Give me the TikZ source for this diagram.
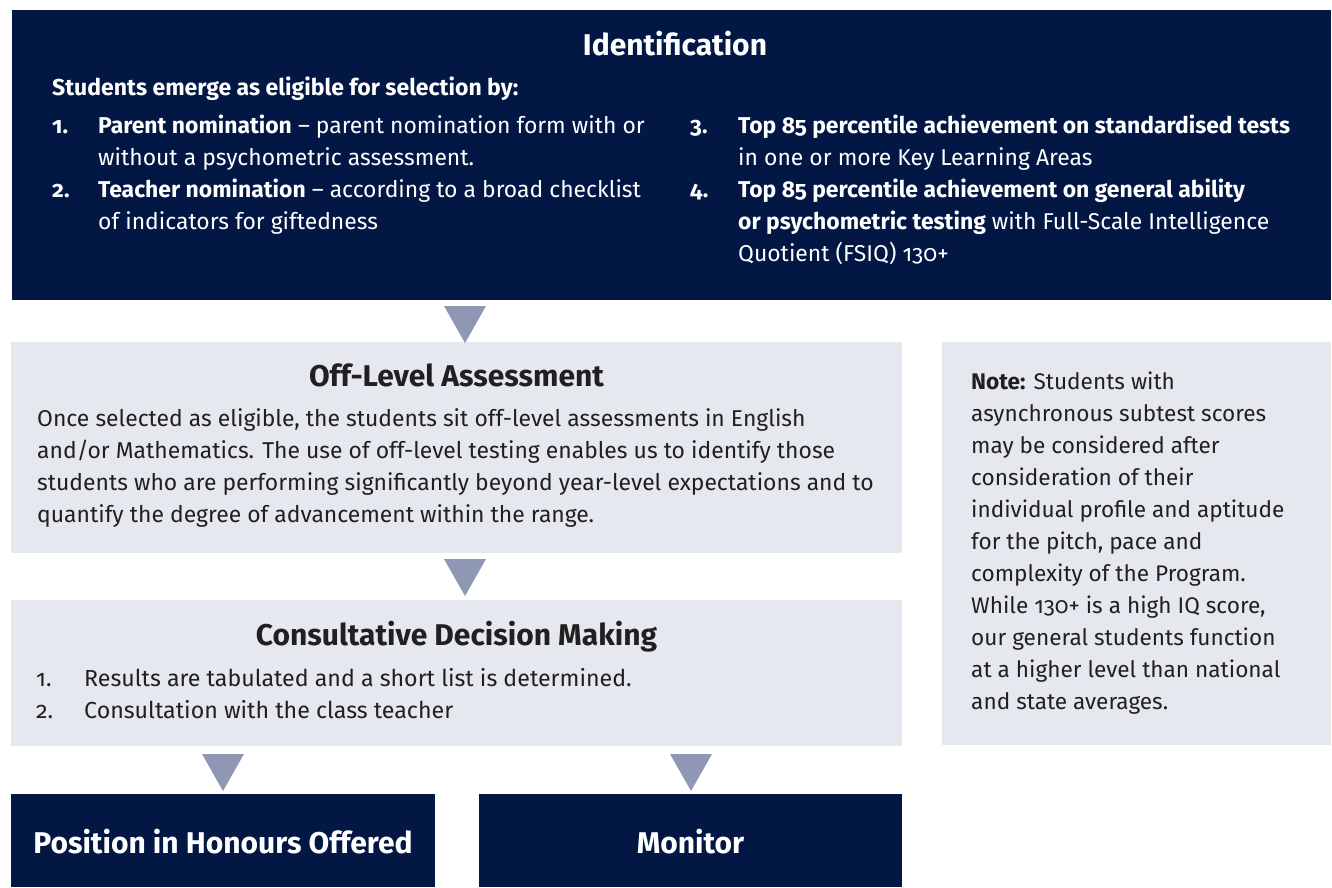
\documentclass[tikz,border=0pt]{standalone}
\usepackage{fontspec}
\setmainfont{Fira Sans}[Numbers=OldStyle]
\definecolor{navy}{HTML}{021744}
\definecolor{paleg}{HTML}{E6E8EF}
\definecolor{trig}{HTML}{8E98B4}
\definecolor{ink}{HTML}{231F20}
\begin{document}
\begin{tikzpicture}[x=1pt,y=-1pt,
  navybox/.style={fill=navy,draw=none,inner sep=0,anchor=north west},
  greybox/.style={fill=paleg,draw=none,inner sep=0,anchor=north west},
  title/.style={font=\fontsize{30}{36}\selectfont\bfseries,inner sep=0,anchor=base},
  body/.style={font=\fontsize{22.9}{32}\selectfont,inner sep=0,anchor=north west,align=left},
  num/.style={font=\fontsize{22.9}{32}\selectfont,inner sep=0,anchor=base west},
  bnum/.style={num,font=\fontsize{22.9}{32}\selectfont\bfseries},
  tri/.style={fill=trig,draw=none}]
\useasboundingbox (0,0) rectangle (1332,887);
% boxes
\node[navybox,minimum width=1319,minimum height=290] (ident) at (12,10) {};
\node[greybox,minimum width=891,minimum height=211] (off) at (11,342) {};
\node[greybox,minimum width=891,minimum height=146] (cons) at (11,600) {};
\node[greybox,minimum width=389,minimum height=403] (note) at (942,342) {};
\node[navybox,minimum width=424,minimum height=93] (pos) at (11,794) {};
\node[navybox,minimum width=423,minimum height=93] (mon) at (479,794) {};
% connectors
\coordinate (t1) at (465,306);
\coordinate (t2) at (465,559);
\coordinate (t3) at (223,754);
\coordinate (t4) at (691,754);
\foreach \t in {t1,t2,t3,t4}{
  \fill[tri] (\t) ++(-21,0) -- ++(42,0) -- ++(-21,37) -- cycle;}
% identification
\node[title,text=white] (identT) at (675,55) {Identification};
\node[bnum,text=white,font=\fontsize{23}{32}\selectfont\bfseries] (identS) at (52,95) {Students emerge as eligible for selection by:};
\node[bnum,text=white] (n1) at (52,133) {1.};
\node[body,text=white] (i1) at (98,110.6) {\strut\textbf{Parent nomination} – parent nomination form with or\\without a psychometric assessment.};
\node[bnum,text=white] (n2) at (52,197) {2.};
\node[body,text=white] (i2) at (98,174.6) {\strut\textbf{Teacher nomination} – according to a broad checklist\\of indicators for giftedness};
\node[bnum,text=white] (n3) at (690,133) {3.};
\node[body,text=white] (i3) at (738,110.6) {\strut\textbf{Top 85 percentile achievement on standardised tests}\\in one or more Key Learning Areas};
\node[bnum,text=white] (n4) at (690,197) {4.};
\node[body,text=white] (i4) at (738,174.6) {\strut\textbf{Top 85 percentile achievement on general ability}\\\textbf{or psychometric testing} with Full-Scale Intelligence\\Quotient (FSIQ) 130+};
% off-level
\node[title,text=ink] (offT) at (456.5,386) {Off-Level Assessment};
\node[body,text=ink] (offB) at (37,403.6) {\strut Once selected as eligible, the students sit off-level assessments in English\\and/or Mathematics. The use of off-level testing enables us to identify those\\students who are performing significantly beyond year-level expectations and to\\quantify the degree of advancement within the range.};
% consultative
\node[title,text=ink] (consT) at (456.5,645) {Consultative Decision Making};
\node[num,text=ink,font=\fontsize{23.2}{32}\selectfont] (c1n) at (36,686) {1.};
\node[num,text=ink,font=\fontsize{23.2}{32}\selectfont] (c1) at (84,686) {Results are tabulated and a short list is determined.};
\node[num,text=ink,font=\fontsize{23.2}{32}\selectfont] (c2n) at (36,718) {2.};
\node[num,text=ink,font=\fontsize{23.2}{32}\selectfont] (c2) at (84,718) {Consultation with the class teacher};
% note
\node[body,text=ink,font=\fontsize{22.6}{32}\selectfont] (noteT) at (971,366.6) {\strut\textbf{Note:} Students with\\asynchronous subtest scores\\may be considered after\\consideration of their\\individual profile and aptitude\\for the pitch, pace and\\complexity of the Program.\\While 130+ is a high IQ score,\\our general students function\\at a higher level than national\\and state averages.};
% bottom
\node[title,text=white] (posT) at (223,853) {Position in Honours Offered};
\node[title,text=white] (monT) at (690.5,853) {Monitor};
\end{tikzpicture}
\end{document}
